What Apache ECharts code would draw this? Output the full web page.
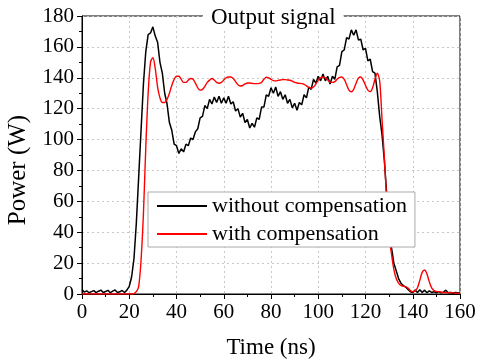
<!DOCTYPE html>
<html><head><meta charset="utf-8">
<script src="https://cdn.jsdelivr.net/npm/echarts@6/dist/echarts.min.js"></script>
<style>html,body{margin:0;padding:0;background:#fff}#c{width:479px;height:364px}</style>
</head><body><div id="c"></div>
<script>
// time axis in ns (1 ns steps, 0..160)
const timeNs = Array.from({length:161},(_, i)=>i);
const xTicks = [0,20,40,60,80,100,120,140,160];
const yTicks = [0,20,40,60,80,100,120,140,160,180];
const seriesNames = ['without compensation','with compensation'];
// Power (W) without compensation (noisy trace)
const withoutComp = [
3,1.2,2,0.8,1.5,2.2,0.9,1.8,2.5,1,
1.6,2.4,0.8,1.9,2.6,1,1.4,2.3,1,2.5,
5,11,23,46,76,106,136,157,168,169,
173,167,163,150,143,130,123,111,106,97,
96,91,94,92,97,96,101,100,105,107,
114,115,122,120,126,123,127.5,124,128,123.5,
127,123.5,128,123,124.5,118.5,120,114.5,117,111,
113,107.5,110.5,108,114,113,121,121,129,128,
133.5,130,134,128,131,126,129,123.5,126,120.5,
123.5,119,124,122.5,129,127,134,132.5,139,136.5,
141,138,142.5,138,141,136,141,139,147,148,
157,158,166,165,171,167.5,171,164.5,165,158,
159,151,152,144,143,131,115,103,86,64,
44,30,20,15,10,7,5.5,4.5,3,1.5,
1,2.5,1,2.8,1,2.5,0.8,2,1,1.5,
0.8,1.5,0.8,1.2,2.5,0.8,1,0.5,1,0.8,
0.5
];
// Power (W) with compensation
const withComp = [
0,0,0,0,0,0,0,0,0,0,
0,0,0,0,0,0,0,0,0,0,
0,0,0.3,1.5,5,22,52,95,130,150,
153,146,134,127,124,124,126,130,135,139,
141,141,139,137,137,138.5,139.5,139,136.5,133.5,
132,132.5,134.5,137,138.5,139.5,138.5,137,136.5,137,
138.5,140,140.5,140.5,139.5,137.5,135.5,134.7,135,136,
136.6,136.6,136.4,136.2,136.2,136.4,137,139,140.3,140,
139,138.2,138,138.3,138.6,138.8,138.8,138.6,138.4,137.8,
137,136.6,136.4,136.2,135.8,134.8,133.8,133.2,134,136,
138.5,140,140.5,140,138.5,137.2,137,137.5,139,140.3,
140.5,139,135.5,132,131,132.5,136.5,139.8,140.5,138.5,
135,132,131,133.5,139,143,138,113,88,60,
38,26,16,10,7,5.5,5,4.8,3.8,2.2,
1.5,2,4,9,14,15.5,13,8,4,2.2,
1.6,1.5,1.2,1,1,0.8,1,0.8,0.6,0.5,
0.5
];

const FONT = 'Liberation Serif';
const chart = echarts.init(document.getElementById('c'));
chart.setOption({
  animation:false,
  backgroundColor:'#fff',
  textStyle:{fontFamily:FONT, color:'#000'},
  title:{
    text:'Output signal', left:203, top:4,
    padding:[2,8,2,8], backgroundColor:'#fff',
    textStyle:{fontFamily:FONT, fontSize:23, fontWeight:'normal', color:'#000'}
  },
  grid:{left:82, right:19, top:16, bottom:70, show:true, borderColor:'#000', borderWidth:1, backgroundColor:'transparent'},
  legend:{
    orient:'vertical', left:148, top:192,
    padding:[3,8,2,9], itemGap:6, itemWidth:50, itemHeight:2, icon:'rect',
    backgroundColor:'#fff', borderColor:'#aaa', borderWidth:1, borderRadius:0,
    textStyle:{fontFamily:FONT, fontSize:22, color:'#000', lineHeight:22},
    data:seriesNames
  },
  xAxis:{
    type:'value', min:xTicks[0], max:xTicks[xTicks.length-1], interval:20,
    name:'Time (ns)', nameLocation:'middle', nameGap:42,
    nameTextStyle:{fontFamily:FONT, fontSize:23, color:'#000'},
    axisLine:{onZero:false, lineStyle:{color:'#000', width:1}},
    axisTick:{show:true, length:5, lineStyle:{color:'#000'}},
    minorTick:{show:true, splitNumber:2, length:3, lineStyle:{color:'#000'}},
    axisLabel:{fontFamily:FONT, fontSize:21, color:'#000', margin:8},
    splitLine:{show:true, lineStyle:{type:[2,3], color:'#c8c8c8'}}
  },
  yAxis:{
    type:'value', min:yTicks[0], max:yTicks[yTicks.length-1], interval:20,
    axisLine:{show:true, lineStyle:{color:'#000', width:1}},
    axisTick:{show:true, length:5, lineStyle:{color:'#000'}},
    minorTick:{show:true, splitNumber:2, length:3, lineStyle:{color:'#000'}},
    axisLabel:{fontFamily:FONT, fontSize:21, color:'#000', margin:8},
    splitLine:{show:true, lineStyle:{type:[2,3], color:'#c8c8c8'}}
  },
  graphic:[{
    type:'text', x:18, y:170, rotation:Math.PI/2,
    style:{text:'Power (W)', font:'25px "Liberation Serif"', fill:'#000', align:'center', verticalAlign:'middle'}
  }],
  series:[
    {name:seriesNames[0], type:'line', symbol:'none', data:timeNs.map((t,i)=>[t, withoutComp[i]]),
     lineStyle:{color:'#000', width:1.5}, itemStyle:{color:'#000'}, z:2},
    {name:seriesNames[1], type:'line', symbol:'none', smooth:0.3, data:timeNs.map((t,i)=>[t, withComp[i]]),
     lineStyle:{color:'#ff0000', width:1.4}, itemStyle:{color:'#ff0000'}, z:3}
  ]
});
</script></body></html>
